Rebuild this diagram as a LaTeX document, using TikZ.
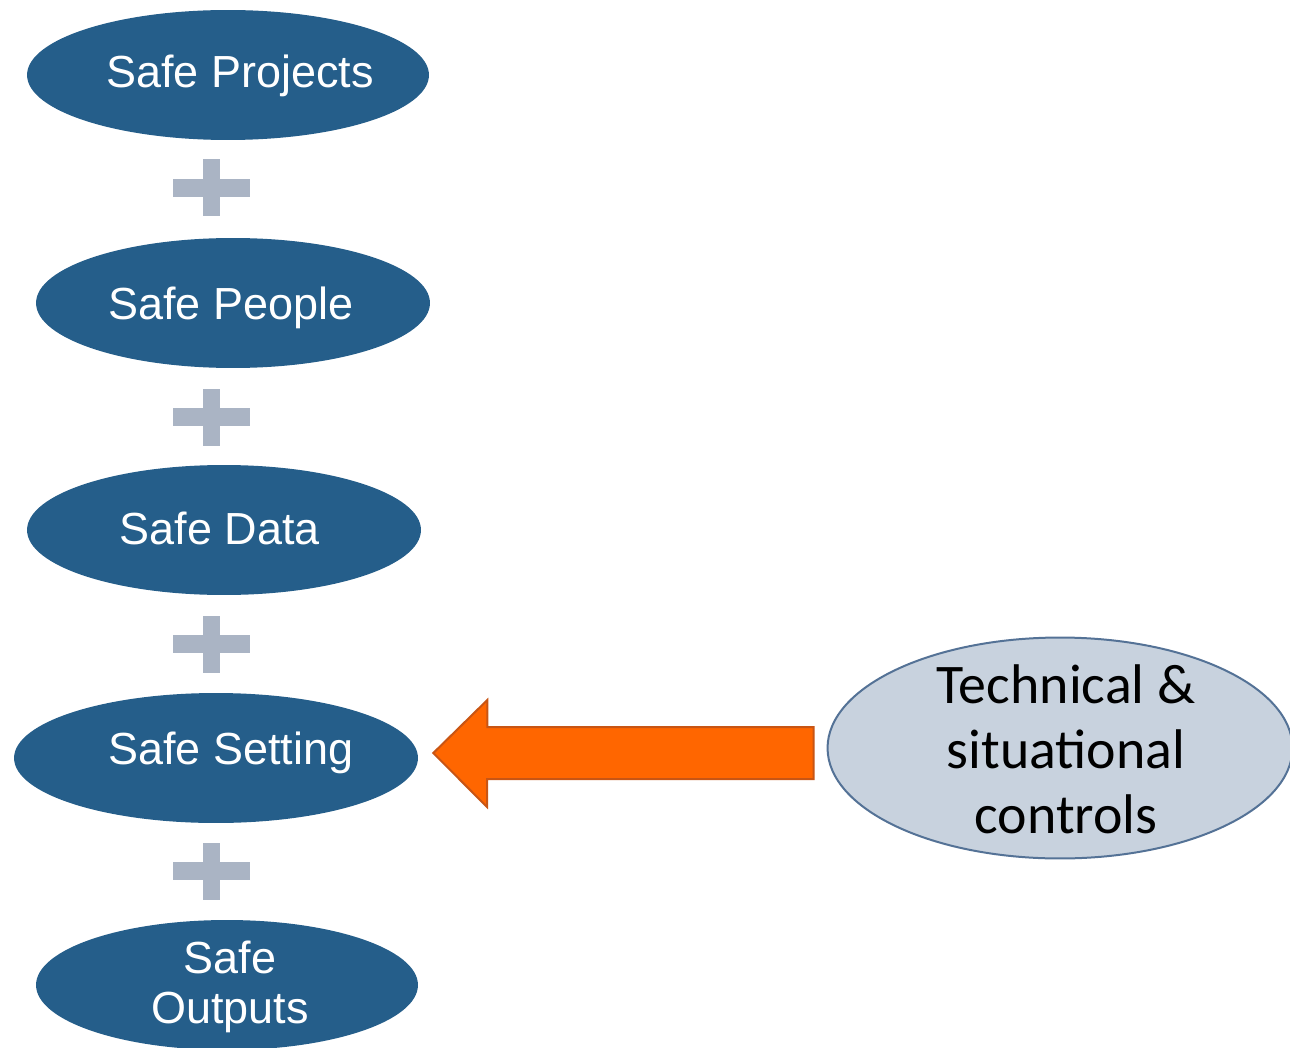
\documentclass[tikz,border=0pt]{standalone}
\usepackage{fontspec}
\setmainfont{Liberation Sans}
\newfontfamily\calibfont{Carlito}
\usetikzlibrary{shapes.geometric,calc}
\definecolor{safeblue}{RGB}{37,94,138}
\definecolor{plusgrey}{RGB}{170,180,196}
\definecolor{ctrlfill}{RGB}{200,210,222}
\definecolor{ctrledge}{RGB}{84,114,150}
\definecolor{arrowfill}{RGB}{255,102,0}
\definecolor{arrowedge}{RGB}{200,85,20}
\begin{document}
\begin{tikzpicture}[x=0.02cm,y=-0.02cm,
  safe/.style={ellipse, fill=safeblue, inner sep=0pt, minimum height=2.6cm},
  safetext/.style={text=white, font=\fontsize{25.6}{28.5}\selectfont, align=center, inner sep=0pt},
  ctrl/.style={ellipse, fill=ctrlfill, draw=ctrledge, line width=0.04cm,
    minimum width=9.3cm, minimum height=4.42cm, inner sep=0pt},
  ctrltext/.style={font=\calibfont\fontsize{31.8}{37}\selectfont, align=center, inner sep=0pt},
  plusfill/.style={fill=plusgrey},
  bigarrow/.style={fill=arrowfill, draw=arrowedge, line width=0.04cm, line join=miter}
]
\useasboundingbox (0,0) rectangle (1290,1047);

% the five "safe" ellipses
\node[safe, minimum width=8.04cm] (proj) at (228,75) {};
\node[safe, minimum width=7.88cm] (people) at (233,303) {};
\node[safe, minimum width=7.88cm] (data) at (224,530) {};
\node[safe, minimum width=8.08cm] (setting) at (216,758) {};
\node[safe, minimum width=7.64cm] (outputs) at (227,985) {};

% their labels
\node[safetext, anchor=base] (tproj) at (240,88) {Safe Projects};
\node[safetext, anchor=base] (tpeople) at (231,319) {Safe People};
\node[safetext, anchor=base] (tdata) at (220,544) {Safe Data};
\node[safetext, anchor=base] (tsetting) at (231,764) {Safe Setting};
\node[safetext] (toutputs) at (230,987) {Safe\\Outputs};

% plus signs between the ellipses
\foreach \py in {188,417,644,871}{
  \fill[plusfill] (173,\py-9) rectangle (250,\py+9);
  \fill[plusfill] (203,\py-28.5) rectangle (220,\py+28.5);
}

% controls ellipse and its label
\node[ctrl] (ctrl) at (1060,748) {};
\node[ctrltext] (tctrl) at (1066,749) {Technical \&\\situational\\controls};

% block arrow from the controls to Safe Setting
\coordinate (tip) at ($(setting.east)+(15,-5)$);
\coordinate (tail) at ($(ctrl.west)+(-13,5)$);
\draw[bigarrow] (tip) -- ++(54,-53) -- ++(0,27) -- (tail |- 0,727)
  -- (tail |- 0,779) -- (487,779) -- (487,807) -- cycle;
\end{tikzpicture}
\end{document}
